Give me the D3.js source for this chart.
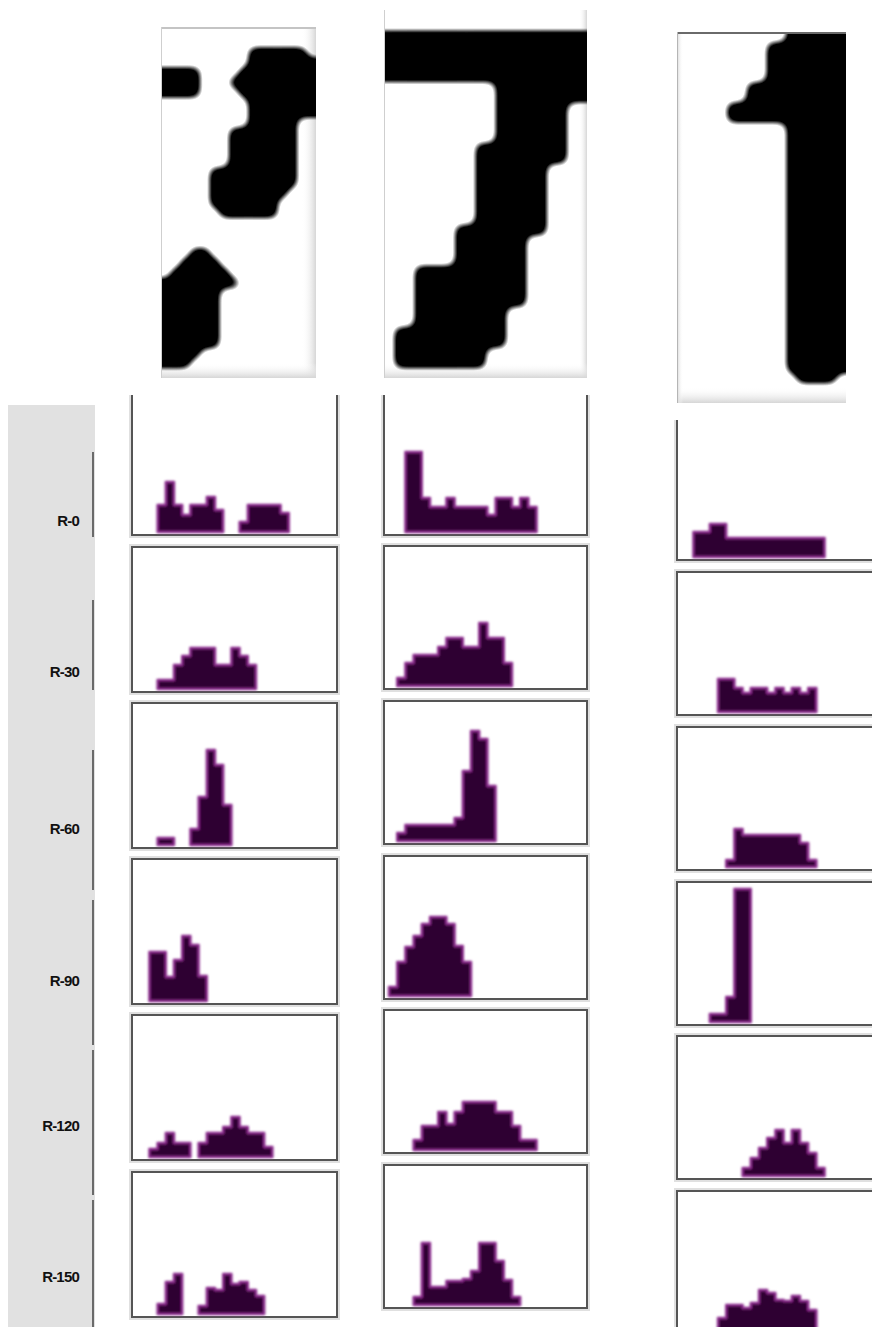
<!DOCTYPE html>
<meta charset="utf-8">

<!-- Load d3.js -->
<script src="https://d3js.org/d3.v7.min.js"></script>
<style>body{margin:0;background:#fff;}</style>

<div id="my_dataviz"></div>

<script>

// pixel rows of the three digit crops ('#' = ink)
var digitA = [
  "................",
  "................",
  ".........######.",
  ".........#######",
  "####....########",
  "####...#########",
  "####....########",
  ".........#######",
  ".........#######",
  ".........#####..",
  ".......#######..",
  ".......#######..",
  ".......#######..",
  ".......#######..",
  ".....#########..",
  ".....#########..",
  ".....########...",
  ".....#######....",
  "......######....",
  "................",
  "................",
  "................",
  "...##...........",
  "..####..........",
  ".######.........",
  "########........",
  "######..........",
  "######..........",
  "######..........",
  "######..........",
  "######..........",
  "######..........",
  "####............",
  "###.............",
  "................"
];

var digitB = [
  "....................",
  "....................",
  "####################",
  "####################",
  "####################",
  "####################",
  "####################",
  "...........#########",
  "...........#########",
  "...........#######..",
  "...........#######..",
  "...........#######..",
  "...........#######..",
  ".........#########..",
  ".........#########..",
  ".........#######....",
  ".........#######....",
  ".........#######....",
  ".........#######....",
  ".........#######....",
  ".........#######....",
  ".......#########....",
  ".......#######......",
  ".......#######......",
  ".......#######......",
  "...###########......",
  "...###########......",
  "...###########......",
  "...###########......",
  "...#########........",
  "...#########........",
  ".###########........",
  ".###########........",
  ".#########..........",
  ".#########..........",
  "...................."
];

var digitC = [
  "...........######",
  ".........########",
  ".........########",
  ".........########",
  ".........########",
  ".......##########",
  ".......##########",
  ".....############",
  ".....############",
  "...........######",
  "...........######",
  "...........######",
  "...........######",
  "...........######",
  "...........######",
  "...........######",
  "...........######",
  "...........######",
  "...........######",
  "...........######",
  "...........######",
  "...........######",
  "...........######",
  "...........######",
  "...........######",
  "...........######",
  "...........######",
  "...........######",
  "...........######",
  "...........######",
  "...........######",
  "...........######",
  "...........######",
  "...........######",
  "............####.",
  ".................",
  "................."
];

var rotations = ["R-0", "R-30", "R-60", "R-90", "R-120", "R-150"];
var nBins = 25;

// bin heights for each rotation: [first digit, second digit, third digit]
var histR0 = [
  [0,0,0,27,50,27,17,27,27,35,22,0,0,10,27,27,27,27,19,0,0,0,0,0,0],
  [0,0,80,80,34,25,25,34,25,25,25,25,17,34,34,25,34,25,0,0,0,0,0,0,0],
  [0,0,25,25,33,33,19,19,19,19,19,19,19,19,19,19,19,19,0,0,0,0,0,0,0]
];
var histR30 = [
  [0,0,0,9,9,24,33,41,41,41,24,24,41,33,24,0,0,0,0,0,0,0,0,0,0],
  [0,8,23,31,31,31,39,48,48,39,39,63,48,48,23,0,0,0,0,0,0,0,0,0,0],
  [0,0,0,0,0,33,33,24,19,24,24,19,24,19,24,19,24,0,0,0,0,0,0,0,0]
];
var histR60 = [
  [0,0,0,7,7,0,0,16,48,95,80,40,0,0,0,0,0,0,0,0,0,0,0,0,0],
  [0,8,16,16,16,16,16,16,23,70,110,102,55,0,0,0,0,0,0,0,0,0,0,0,0],
  [0,0,0,0,0,0,7,38,32,32,32,32,32,32,32,24,7,0,0,0,0,0,0,0,0]
];
var histR90 = [
  [0,0,49,49,24,41,65,56,25,0,0,0,0,0,0,0,0,0,0,0,0,0,0,0,0],
  [9,34,49,60,72,79,79,72,50,34,0,0,0,0,0,0,0,0,0,0,0,0,0,0,0],
  [0,0,0,0,8,8,25,133,133,0,0,0,0,0,0,0,0,0,0,0,0,0,0,0,0]
];
var histR120 = [
  [0,0,8,14,24,14,14,0,14,24,24,30,40,30,24,24,10,0,0,0,0,0,0,0,0],
  [0,0,0,10,24,24,38,26,38,48,48,48,48,38,38,24,10,10,0,0,0,0,0,0,0],
  [0,0,0,0,0,0,0,0,8,18,28,38,46,33,46,33,23,8,0,0,0,0,0,0,0]
];
var histR150 = [
  [0,0,0,10,32,40,0,0,8,26,24,40,30,32,24,18,0,0,0,0,0,0,0,0,0],
  [0,0,0,8,62,18,18,24,24,26,34,62,62,44,25,8,0,0,0,0,0,0,0,0,0],
  [0,0,0,0,0,13,26,26,23,28,41,38,31,30,35,30,21,0,0,0,0,0,0,0,0]
];
var histograms = [histR0, histR30, histR60, histR90, histR120, histR150];

// layout
var width = 872, height = 1327;
var boxes = [
  {rows: digitA, x: 161, y: 27, w: 155, h: 351, top: "#c4c4c4", left: "#cfcfcf", shadeR: 14, shadeB: 15, shadeL: 0},
  {rows: digitB, x: 384, y: 10, w: 203, h: 368, top: null, left: "#cfcfcf", shadeR: 8, shadeB: 15, shadeL: 0},
  {rows: digitC, x: 677, y: 32, w: 169, h: 371, top: "#6a6a6a", left: "#b5b5b5", shadeR: 0, shadeB: 16, shadeL: 6}
];
var panelCols = [
  {x: 132, w: 205, binX: 133, h: 145, visTop: 395, tops: [390, 547, 703, 859, 1015, 1172]},
  {x: 384, w: 203, binX: 389, h: 143, visTop: 395, tops: [392, 546, 701, 856, 1010, 1165]},
  {x: 677, w: 205, binX: 677, h: 143, visTop: 420, tops: [417, 572, 727, 882, 1036, 1191]}
];
var binW = 8.2;
var labelY = [520, 671, 828, 980, 1125, 1276];
var sideLines = [[452, 537], [600, 690], [750, 890], [900, 1045], [1050, 1195], [1200, 1327]];

var svg = d3.select("#my_dataviz")
  .append("svg")
    .attr("width", width)
    .attr("height", height)
    .style("display", "block");

var defs = svg.append("defs");

// blur + threshold gives the soft rounded look of an upscaled bitmap
var soft = defs.append("filter").attr("id", "soft")
  .attr("x", "-10%").attr("y", "-10%").attr("width", "120%").attr("height", "120%");
soft.append("feGaussianBlur").attr("in", "SourceGraphic").attr("stdDeviation", 5.5).attr("result", "b");
soft.append("feComponentTransfer").attr("in", "b")
  .append("feFuncA").attr("type", "linear").attr("slope", 3).attr("intercept", -1);

var histSoft = defs.append("filter").attr("id", "histSoft")
  .attr("x", "-10%").attr("y", "-10%").attr("width", "120%").attr("height", "120%");
histSoft.append("feGaussianBlur").attr("stdDeviation", 0.9);

function shade(id, x1, y1, x2, y2) {
  var g = defs.append("linearGradient").attr("id", id)
    .attr("x1", x1).attr("y1", y1).attr("x2", x2).attr("y2", y2);
  g.append("stop").attr("offset", "0%").attr("stop-color", "#fff").attr("stop-opacity", 0);
  g.append("stop").attr("offset", "100%").attr("stop-color", "#d6d6d6");
}
shade("shadeR", 0, 0, 1, 0);
shade("shadeB", 0, 0, 0, 1);
shade("shadeL", 1, 0, 0, 0);

// digit crops
boxes.forEach(function(b, k) {
  var nc = b.rows[0].length, nr = b.rows.length;
  var x = d3.scaleLinear().domain([0, nc]).range([b.x, b.x + b.w]);
  var y = d3.scaleLinear().domain([0, nr]).range([b.y, b.y + b.h]);

  var cells = [];
  b.rows.forEach(function(row, r) {
    row.split("").forEach(function(ch, c) {
      if (ch === "#") cells.push({r: r, c: c});
    });
  });

  defs.append("clipPath").attr("id", "box" + k)
    .append("rect").attr("x", b.x).attr("y", b.y).attr("width", b.w).attr("height", b.h);

  var g = svg.append("g").attr("clip-path", "url(#box" + k + ")");
  g.append("rect").attr("x", b.x).attr("y", b.y).attr("width", b.w).attr("height", b.h).attr("fill", "#fff");
  if (b.shadeR) g.append("rect").attr("x", b.x + b.w - b.shadeR).attr("y", b.y).attr("width", b.shadeR).attr("height", b.h).attr("fill", "url(#shadeR)");
  if (b.shadeB) g.append("rect").attr("x", b.x).attr("y", b.y + b.h - b.shadeB).attr("width", b.w).attr("height", b.shadeB).attr("fill", "url(#shadeB)");
  if (b.shadeL) g.append("rect").attr("x", b.x).attr("y", b.y).attr("width", b.shadeL).attr("height", b.h).attr("fill", "url(#shadeL)");

  // cells on the crop edge are stretched out so the clip keeps them flush
  var pad = 22;
  g.append("g")
      .attr("filter", "url(#soft)")
    .selectAll("rect")
    .data(cells)
    .enter()
    .append("rect")
      .attr("x", function(d) { return x(d.c) - (d.c === 0 ? pad : 0); })
      .attr("y", function(d) { return y(d.r) - (d.r === 0 ? pad : 0); })
      .attr("width", function(d) { return x(d.c + 1) - x(d.c) + 0.6 + (d.c === 0 ? pad : 0) + (d.c === nc - 1 ? pad : 0); })
      .attr("height", function(d) { return y(d.r + 1) - y(d.r) + 0.6 + (d.r === 0 ? pad : 0); })
      .attr("fill", "#000");

  if (b.top) g.append("line").attr("x1", b.x).attr("x2", b.x + b.w).attr("y1", b.y + 1).attr("y2", b.y + 1)
    .attr("stroke", b.top).attr("stroke-width", 2);
  if (b.left) g.append("line").attr("x1", b.x + 0.5).attr("x2", b.x + 0.5).attr("y1", b.y).attr("y2", b.y + b.h)
    .attr("stroke", b.left).attr("stroke-width", 1);
});

// row header strip
svg.append("rect")
  .attr("x", 8).attr("y", 405).attr("width", 87).attr("height", height - 405)
  .attr("fill", "#e1e1e1");

svg.selectAll(".sideLine")
  .data(sideLines)
  .enter()
  .append("line")
    .attr("class", "sideLine")
    .attr("x1", 93).attr("x2", 93)
    .attr("y1", function(d) { return d[0]; })
    .attr("y2", function(d) { return d[1]; })
    .attr("stroke", "#6a6a6a")
    .attr("stroke-width", 2);

svg.selectAll(".rowLabel")
  .data(rotations)
  .enter()
  .append("text")
    .attr("class", "rowLabel")
    .attr("x", 79)
    .attr("y", function(d, i) { return labelY[i] + 6; })
    .attr("text-anchor", "end")
    .style("font-family", "'Liberation Sans', Arial, sans-serif")
    .style("font-weight", "bold")
    .style("font-size", "15px")
    .style("letter-spacing", "-0.8px")
    .style("fill", "#111")
    .text(function(d) { return d; });

// histogram panels
var area = function(x, y) {
  return d3.area()
    .curve(d3.curveStepAfter)
    .x(function(d) { return x(d[0]); })
    .y0(y(0))
    .y1(function(d) { return y(d[1]); });
};

panelCols.forEach(function(pc, j) {
  defs.append("clipPath").attr("id", "col" + j)
    .append("rect").attr("x", pc.x - 10).attr("y", pc.visTop).attr("width", pc.w + 20).attr("height", height - pc.visTop);

  var g = svg.append("g").attr("clip-path", "url(#col" + j + ")");

  rotations.forEach(function(rot, i) {
    var top = pc.tops[i], bottom = top + pc.h;

    g.append("rect")
      .attr("x", pc.x - 3).attr("y", top - 3).attr("width", pc.w + 6).attr("height", pc.h + 6)
      .attr("fill", "#e0e0e0");
    g.append("rect")
      .attr("x", pc.x).attr("y", top).attr("width", pc.w).attr("height", pc.h)
      .attr("fill", "#fff").attr("stroke", "#555").attr("stroke-width", 2);

    var x = d3.scaleLinear().domain([0, nBins]).range([pc.binX, pc.binX + nBins * binW]);
    var y = d3.scaleLinear().domain([0, 140]).range([bottom - 3, bottom - 143]);

    // split the bins into runs of non-empty bins
    var vals = histograms[i][j];
    var runs = [], cur = null;
    vals.forEach(function(v, b) {
      if (v > 0) {
        if (!cur) { cur = []; runs.push(cur); }
        cur.push([b, v]);
      } else cur = null;
    });
    runs.forEach(function(run) {
      var last = run[run.length - 1];
      run.push([last[0] + 1, last[1]]);
    });

    g.append("g")
        .attr("filter", "url(#histSoft)")
      .selectAll("path")
      .data(runs)
      .enter()
      .append("path")
        .attr("d", area(x, y))
        .attr("fill", "#2f0031")
        .attr("stroke", "#8a2a8c")
        .attr("stroke-width", 2.4)
        .attr("stroke-linejoin", "round");
  });
});

</script>
